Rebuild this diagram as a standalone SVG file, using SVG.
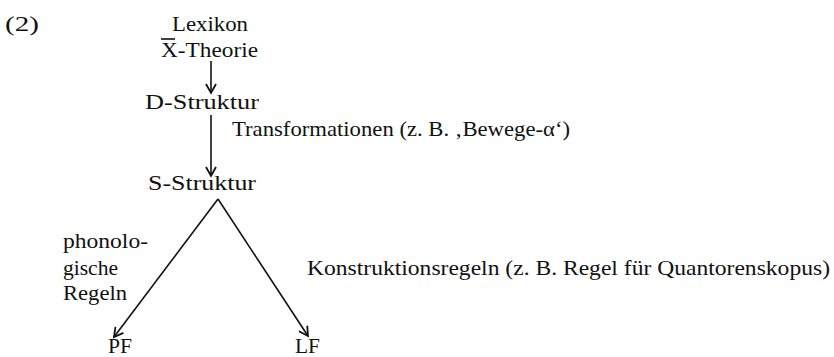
<svg xmlns="http://www.w3.org/2000/svg" width="834" height="357" viewBox="0 0 834 357">
<style>
text{font-family:"Liberation Serif","Times New Roman",serif;font-size:21px;fill:#111;}
.ln{stroke:#111;stroke-width:1.6;fill:none;}
</style>
<defs>
<marker id="ah" markerWidth="12" markerHeight="12" refX="10" refY="6" orient="auto" markerUnits="userSpaceOnUse">
<path d="M1,1 L10,6 L1,11" fill="none" stroke="#111" stroke-width="1.8"/>
</marker>
</defs>
<rect width="834" height="357" fill="#fff"/>
<text x="5" y="31" textLength="34" lengthAdjust="spacingAndGlyphs">(2)</text>
<g id="lexikon">
<text x="172" y="31" textLength="76" lengthAdjust="spacingAndGlyphs">Lexikon</text>
<text x="161" y="57" textLength="97" lengthAdjust="spacingAndGlyphs">X-Theorie</text>
<line x1="161" y1="39" x2="175" y2="39" stroke="#111" stroke-width="1.6"/>
</g>
<g id="dstruktur"><text x="145" y="109" textLength="114" lengthAdjust="spacingAndGlyphs">D-Struktur</text></g>
<g id="sstruktur"><text x="148" y="190" textLength="108" lengthAdjust="spacingAndGlyphs">S-Struktur</text></g>
<g id="pf"><text x="108" y="353" textLength="24" lengthAdjust="spacingAndGlyphs">PF</text></g>
<g id="lf"><text x="295" y="353" textLength="25" lengthAdjust="spacingAndGlyphs">LF</text></g>
<g id="connectors">
<line class="ln" x1="211" y1="61" x2="211" y2="93" marker-end="url(#ah)"/>
<line class="ln" x1="211" y1="115" x2="211" y2="176" marker-end="url(#ah)"/>
<line class="ln" x1="218" y1="199" x2="114" y2="337" marker-end="url(#ah)"/>
<line class="ln" x1="218" y1="199" x2="308" y2="336" marker-end="url(#ah)"/>
</g>
<g id="labels">
<text x="232" y="136" textLength="338" lengthAdjust="spacingAndGlyphs">Transformationen (z. B. ‚Bewege-α‘)</text>
<text x="63" y="248" textLength="85" lengthAdjust="spacingAndGlyphs">phonolo-</text>
<text x="63" y="275" textLength="55" lengthAdjust="spacingAndGlyphs">gische</text>
<text x="63" y="300" textLength="64" lengthAdjust="spacingAndGlyphs">Regeln</text>
<text x="307" y="275" textLength="523" lengthAdjust="spacingAndGlyphs">Konstruktionsregeln (z. B. Regel für Quantorenskopus)</text>
</g>
</svg>
